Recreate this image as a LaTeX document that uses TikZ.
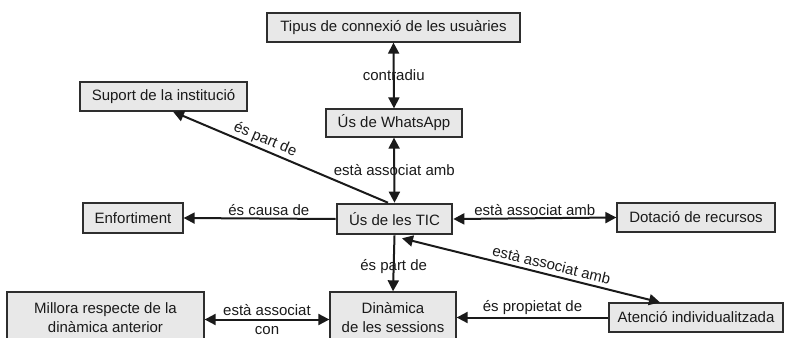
\documentclass[tikz,border=0pt]{standalone}
\usepackage{fontspec}
\setmainfont{Liberation Sans}
\usetikzlibrary{arrows.meta}
\definecolor{boxfill}{HTML}{E8E8E8}
\definecolor{boxline}{HTML}{2E2E2E}
\definecolor{ink}{HTML}{1A1A1A}
\begin{document}
\begin{tikzpicture}[x=1pt,y=-1pt,
  font=\fontsize{15}{19}\selectfont,
  concept/.style={draw=boxline,fill=boxfill,line width=1.3pt,inner sep=0pt,text=ink,align=center},
  link/.style={draw=ink,line width=2pt},
  tip/.style={-{Triangle[length=11pt,width=11pt]}},
  tips/.style={{Triangle[length=11pt,width=11pt]}-{Triangle[length=11pt,width=11pt]}},
  lbl/.style={text=ink,inner sep=2pt}]
\useasboundingbox (0,0) rectangle (786,337);
\clip (0,0) rectangle (786,337);
\fill[white] (0,0) rectangle (786,337);

\node[concept,minimum width=253pt,minimum height=29pt] (tipus) at (393.5,27.5) {Tipus de connexió de les usuàries};
\node[concept,minimum width=167pt,minimum height=29pt] (suport) at (163.5,96.5) {Suport de la institució};
\node[concept,minimum width=136pt,minimum height=28pt] (whats) at (394,123) {Ús de WhatsApp};
\node[concept,minimum width=115pt,minimum height=30pt,line width=2.6pt] (tic) at (394.5,219) {Ús de les TIC};
\node[concept,minimum width=100pt,minimum height=30pt] (enf) at (133,218) {Enfortiment};
\node[concept,minimum width=158pt,minimum height=29pt] (dot) at (696,217.5) {Dotació de recursos};
\node[concept,minimum width=197pt,minimum height=51pt] (millora) at (105.5,317.5) {Millora respecte de la\\dinàmica anterior};
\node[concept,minimum width=126pt,minimum height=51pt] (din) at (393,317.5) {Dinàmica\\de les sessions};
\node[concept,minimum width=174pt,minimum height=29pt] (aten) at (696,317.5) {Atenció individualitzada};

\draw[link,tips] (tipus.south) -- node[lbl] (l1) {contradiu} (whats.north);
\draw[link,tips] (whats.south) -- node[lbl] (l2) {està associat amb} (tic.north);
\draw[link,tip] ([xshift=-6.5pt]tic.north) -- node[lbl,sloped,above,pos=0.59] (l3) {és part de} ([xshift=9.5pt]suport.south);
\draw[link,tip] (tic.west) -- node[lbl,above,pos=0.44] (l4) {és causa de} (enf.east);
\draw[link,tips] (tic.east) -- node[lbl,above] (l5) {està associat amb} (dot.west);
\draw[link,tip] (tic.south) -- node[lbl,pos=0.55] (l6) {és part de} (din.north);
\draw[link,tips] ([xshift=7.5pt,yshift=-3pt]tic.south) -- node[lbl,sloped,above,pos=0.57,inner sep=4pt] (l7) {està associat amb} ([xshift=-36pt]aten.north);
\draw[link,tip] (aten.west) -- node[lbl,above] (l8) {és propietat de} (din.east);
\draw[link,tips] ([yshift=-2pt]millora.east) -- node[lbl,align=center,pos=0.5] (l9) {està associat\\con} ([yshift=-2pt]din.west);
\end{tikzpicture}
\end{document}
